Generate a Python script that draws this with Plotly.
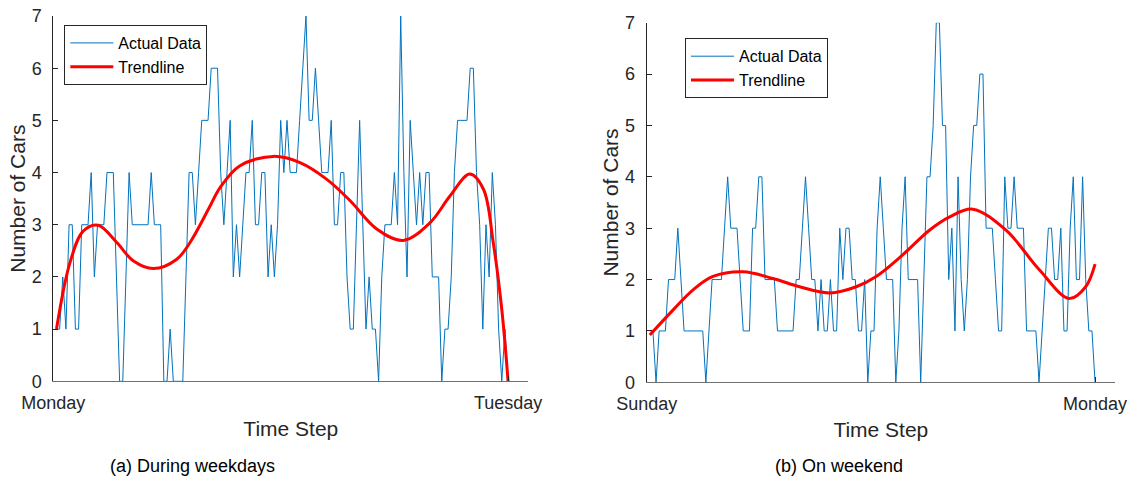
import plotly.graph_objects as go

# Cars counted per 10-minute time step over one day (144 steps)
time_step = list(range(1, 145))

weekday_cars = [
    1, 1, 2, 1, 3, 3, 1, 1, 3, 3, 3, 4, 2, 3, 3, 3, 4, 4, 4, 2,
    0, 0, 2, 4, 3, 3, 3, 3, 3, 3, 4, 3, 3, 3, 0, 0, 1, 0, 0, 0,
    0, 2, 4, 4, 3, 4, 5, 5, 5, 6, 6, 6, 4, 3, 4, 5, 2, 3, 2, 3,
    4, 4, 5, 3, 3, 4, 4, 2, 3, 2, 3, 5, 4, 5, 4, 4, 4, 5, 6, 7,
    5, 5, 6, 5, 4, 4, 4, 5, 3, 3, 4, 4, 2, 1, 1, 3, 5, 3, 1, 2,
    1, 1, 0, 2, 3, 3, 3, 4, 3, 7, 4, 2, 5, 4, 3, 4, 3, 4, 4, 2,
    2, 2, 0, 1, 1, 2, 4, 5, 5, 5, 5, 6, 6, 4, 3, 1, 3, 2, 4, 3,
    1, 0, 1, 0,
]

weekend_cars = [
    1, 1, 0, 1, 1, 1, 2, 2, 2, 3, 2, 1, 1, 1, 1, 1, 1, 1, 0, 1,
    2, 2, 2, 2, 3, 4, 3, 3, 3, 2, 1, 1, 1, 3, 3, 4, 4, 2, 2, 2,
    2, 1, 1, 1, 1, 1, 1, 2, 2, 3, 4, 3, 2, 2, 1, 2, 1, 1, 2, 1,
    1, 3, 2, 3, 3, 2, 2, 1, 1, 2, 0, 1, 1, 3, 4, 3, 2, 2, 2, 0,
    1, 3, 4, 2, 2, 2, 2, 0, 2, 4, 4, 5, 7, 7, 5, 5, 2, 3, 1, 4,
    2, 1, 2, 4, 5, 5, 6, 6, 3, 3, 3, 2, 1, 1, 4, 3, 3, 4, 3, 3,
    3, 1, 1, 1, 1, 0, 1, 2, 3, 3, 2, 2, 3, 1, 1, 3, 4, 2, 2, 4,
    2, 1, 1, 0,
]

# Trendline values sampled along the day
weekday_trend_x = [1, 5.3, 9.5, 14.2, 20.1, 25.3, 31.7, 39.1, 43.3, 49.4, 52.8,
                   59.1, 69.7, 78.1, 86.6, 94, 102.4, 110.8, 119.3, 125.6, 131.9,
                   136.2, 139.3, 142, 144]
weekday_trend_y = [1.0, 2.28, 2.88, 2.99, 2.66, 2.31, 2.16, 2.34, 2.66, 3.33, 3.71,
                   4.13, 4.31, 4.19, 3.87, 3.46, 2.92, 2.70, 3.04, 3.55, 3.97,
                   3.68, 2.66, 1.38, 0.0]

weekend_trend_x = [1, 8.5, 14.9, 21.3, 31, 40.6, 49.1, 58.8, 67.3, 73.7, 82.2,
                   90.8, 97.3, 104.7, 115.4, 126.1, 135.7, 141, 144]
weekend_trend_y = [0.92, 1.41, 1.80, 2.06, 2.15, 2.02, 1.86, 1.74, 1.86, 2.06, 2.48,
                   2.96, 3.22, 3.37, 2.96, 2.19, 1.63, 1.86, 2.30]

weekday_ticks = ["Monday", "Tuesday"]
weekend_ticks = ["Sunday", "Monday"]
y_ticks = list(range(0, 8))

BLUE = "#0072BD"
RED = "#FF0000"
AXIS = "#262626"
FONT = "Liberation Sans, Arial, Helvetica, sans-serif"
W, H = 1139, 480

fig = go.Figure()

fig.add_trace(go.Scatter(x=time_step, y=weekday_cars, mode="lines", name="Actual Data",
                         line=dict(color=BLUE, width=1), xaxis="x", yaxis="y",
                         legend="legend"))
fig.add_trace(go.Scatter(x=weekday_trend_x, y=weekday_trend_y, mode="lines", name="Trendline",
                         line=dict(color=RED, width=3, shape="spline", smoothing=1.0),
                         xaxis="x", yaxis="y", legend="legend"))
fig.add_trace(go.Scatter(x=time_step, y=weekend_cars, mode="lines", name="Actual Data",
                         line=dict(color=BLUE, width=1), xaxis="x2", yaxis="y2",
                         legend="legend2"))
fig.add_trace(go.Scatter(x=weekend_trend_x, y=weekend_trend_y, mode="lines", name="Trendline",
                         line=dict(color=RED, width=3, shape="spline", smoothing=1.0),
                         xaxis="x2", yaxis="y2", legend="legend2"))


def xaxis_style(domain, ticktext, anchor):
    return dict(domain=domain, anchor=anchor, range=[0, 150.4],
                tickvals=[0, 144], ticktext=ticktext,
                showline=True, linecolor="#707070", linewidth=1,
                ticks="inside", ticklen=5, tickcolor=AXIS,
                showgrid=False, zeroline=False, automargin=False,
                ticklabelstandoff=5,
                tickfont=dict(family=FONT, size=18, color=AXIS),
                title=dict(text="Time Step", standoff=9,
                           font=dict(family=FONT, size=21, color=AXIS)))


def yaxis_style(domain, anchor):
    return dict(domain=domain, anchor=anchor, range=[0, 7],
                tickvals=y_ticks, showline=True, linecolor=AXIS, linewidth=1,
                ticks="inside", ticklen=5, tickcolor=AXIS,
                showgrid=False, zeroline=False, automargin=False,
                ticklabelstandoff=7,
                tickfont=dict(family=FONT, size=18, color=AXIS),
                title=dict(text="Number of Cars", standoff=0,
                           font=dict(family=FONT, size=21, color=AXIS)))


legend_common = dict(xanchor="left", yanchor="top", bgcolor="white",
                     bordercolor=AXIS, borderwidth=1, itemwidth=43,
                     font=dict(family=FONT, size=16, color="#000000"),
                     tracegroupgap=0)

fig.update_layout(
    width=W, height=H,
    margin=dict(l=0, r=0, t=0, b=0),
    paper_bgcolor="white", plot_bgcolor="white",
    xaxis=xaxis_style([53.3 / W, 528.3 / W], weekday_ticks, "y"),
    yaxis=yaxis_style([98.7 / H, 464 / H], "x"),
    xaxis2=xaxis_style([646.7 / W, 1115 / W], weekend_ticks, "y2"),
    yaxis2=yaxis_style([97.7 / H, 457.3 / H], "x2"),
    legend=dict(x=64.3 / W, y=1 - 25 / H, **legend_common),
    legend2=dict(x=685 / W, y=1 - 38.3 / H, **legend_common),
    annotations=[
        dict(text="(a) During weekdays", x=192 / W, y=1 - 466 / H, xref="paper", yref="paper",
             showarrow=False, xanchor="center", yanchor="middle",
             font=dict(family=FONT, size=18, color="#000000")),
        dict(text="(b) On weekend", x=839 / W, y=1 - 466 / H, xref="paper", yref="paper",
             showarrow=False, xanchor="center", yanchor="middle",
             font=dict(family=FONT, size=18, color="#000000")),
    ],
)

fig.write_html("out.html")
